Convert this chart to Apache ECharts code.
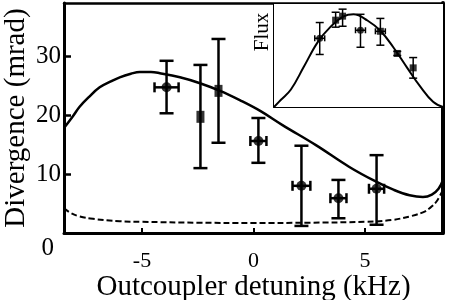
<!DOCTYPE html>
<html><head><meta charset="utf-8">
<script src="https://cdn.jsdelivr.net/npm/echarts@6/dist/echarts.min.js"></script>
<style>html,body{margin:0;padding:0;background:#fff}#c{width:450px;height:300px}</style>
</head><body><div id="c"></div>
<script>
// Main plot data (detuning kHz, divergence mrad)
const detuning = [-3.9, -2.38, -1.57, 0.22, 2.15, 3.81, 5.52];
const divergence = [24.7, 19.7, 24.1, 15.6, 8.0, 5.9, 7.5];
const divLow = [20.3, 11.0, 15.3, 11.9, 1.2, 2.5, 1.4];
const divHigh = [29.2, 28.5, 32.9, 19.5, 14.8, 9.0, 13.2];
const detErr = [0.54, 0, 0, 0.36, 0.4, 0.36, 0.34];
const markerShape = ['circle', 'rect', 'rect', 'circle', 'circle', 'circle', 'circle'];

// Theory curves
const solidCurve = [[-8.5,17.8],[-8.1,19.8],[-7.8,21.4],[-7.4,23.0],[-6.9,24.7],[-6.4,25.7],[-6.0,26.4],[-5.5,27.0],[-5.1,27.3],[-4.6,27.3],[-4.2,27.1],[-3.3,26.4],[-2.4,25.4],[-1.5,24.1],[-0.6,22.5],[0.3,20.7],[1.3,18.3],[2.8,14.9],[4.3,11.2],[5.5,8.7],[6.3,7.3],[7.0,6.4],[7.6,6.1],[8.0,6.5],[8.3,7.5],[8.5,9.0]];
const dashedCurve = [[-8.5,4.2],[-8.2,3.4],[-7.8,2.8],[-7.2,2.4],[-6.0,2.0],[-5,1.9],[-2.5,1.75],[0,1.7],[2.5,1.75],[5,1.9],[6.2,2.2],[7.1,2.9],[7.6,3.5],[7.9,4.2],[8.2,5.3],[8.5,7.3]];

// Inset (flux) data
const insetX = [-3.9, -2.3, -1.6, 0.2, 2.2, 3.9, 5.5];
const insetFlux = [0.667, 0.843, 0.882, 0.745, 0.735, 0.52, 0.38];
const insetLow = [0.51, 0.775, 0.784, 0.58, 0.60, 0.50, 0.28];
const insetHigh = [0.82, 0.92, 0.95, 0.90, 0.86, 0.54, 0.48];
const insetXErr = [0.5, 0, 0, 0.5, 0.5, 0, 0];
const insetShape = ['circle', 'rect', 'rect', 'circle', 'rect', 'rect', 'rect'];
const insetCurve = [[-8.5,0],[-7.8,0.07],[-6.8,0.17],[-5.5,0.39],[-4.1,0.63],[-2.8,0.78],[-1.5,0.88],[-0.5,0.9],[0.9,0.84],[2.2,0.74],[3.5,0.58],[4.9,0.38],[6.2,0.2],[7.5,0.05],[8.5,0]];

const xTicks = [-5, 0, 5];
const yTicks = [0, 10, 20, 30];

const FONT = 'Liberation Serif';

function errData(xs, ys, lo, hi, xe) {
  return xs.map((x, i) => [x, ys[i], lo[i], hi[i], xe[i]]);
}
function errRender(capV, capH, lw) {
  return function (params, api) {
    const x = api.value(0), y = api.value(1), lo = api.value(2), hi = api.value(3), xe = api.value(4);
    const pLo = api.coord([x, lo]), pHi = api.coord([x, hi]);
    const children = [];
    const st = { stroke: '#000', lineWidth: lw };
    children.push({ type: 'line', shape: { x1: pLo[0], y1: pLo[1], x2: pHi[0], y2: pHi[1] }, style: st });
    children.push({ type: 'line', shape: { x1: pLo[0] - capV, y1: pLo[1], x2: pLo[0] + capV, y2: pLo[1] }, style: st });
    children.push({ type: 'line', shape: { x1: pHi[0] - capV, y1: pHi[1], x2: pHi[0] + capV, y2: pHi[1] }, style: st });
    if (xe > 0) {
      const pL = api.coord([x - xe, y]), pR = api.coord([x + xe, y]);
      children.push({ type: 'line', shape: { x1: pL[0], y1: pL[1], x2: pR[0], y2: pR[1] }, style: st });
      children.push({ type: 'line', shape: { x1: pL[0], y1: pL[1] - capH, x2: pL[0], y2: pL[1] + capH }, style: st });
      children.push({ type: 'line', shape: { x1: pR[0], y1: pR[1] - capH, x2: pR[0], y2: pR[1] + capH }, style: st });
    }
    return { type: 'group', children };
  };
}
function frameAxis(gridIndex, pos, min, max, width) {
  return { type: 'value', gridIndex, position: pos, min, max,
    axisLine: { show: true, onZero: false, lineStyle: { color: '#000', width } },
    axisTick: { show: false }, axisLabel: { show: false }, splitLine: { show: false } };
}

const chart = echarts.init(document.getElementById('c'), null, { renderer: 'canvas' });
chart.setOption({
  animation: false,
  backgroundColor: '#fff',
  grid: [
    { left: 64, right: 7, top: 3, bottom: 67, containLabel: false, outerBoundsMode: 'none' },
    { left: 274, right: 7, top: 4, height: 103, show: true, borderWidth: 0, backgroundColor: '#fff', z: 5, containLabel: false, outerBoundsMode: 'none' }
  ],
  xAxis: [
    { type: 'value', gridIndex: 0, min: -8.5, max: 8.5, position: 'bottom',
      name: 'Outcoupler detuning (kHz)', nameLocation: 'middle', nameGap: 40, nameMoveOverlap: false,
      nameTextStyle: { fontFamily: FONT, fontSize: 29, color: '#000' },
      axisLine: { show: true, onZero: false, lineStyle: { color: '#000', width: 3 } }, splitLine: { show: false },
      axisTick: { inside: true, length: 5, lineStyle: { color: '#000', width: 2 }, customValues: xTicks },
      axisLabel: { fontFamily: FONT, fontSize: 22, color: '#000', margin: 17, customValues: xTicks } },
    frameAxis(0, 'top', -8.5, 8.5, 2.5),
    { type: 'value', gridIndex: 1, min: -8.5, max: 8.5, position: 'bottom',
      axisLine: { show: true, onZero: false, lineStyle: { color: '#000', width: 2 } }, splitLine: { show: false },
      axisTick: { inside: true, length: 4, lineStyle: { color: '#000', width: 1.5 }, customValues: xTicks },
      axisLabel: { show: false } },
    frameAxis(1, 'top', -8.5, 8.5, 2)
  ],
  yAxis: [
    { type: 'value', gridIndex: 0, min: 0, max: 39, position: 'left',
      name: 'Divergence (mrad)', nameLocation: 'middle', nameGap: 33, nameMoveOverlap: false,
      nameTextStyle: { fontFamily: FONT, fontSize: 29, color: '#000' },
      axisLine: { show: true, onZero: false, lineStyle: { color: '#000', width: 3 } }, splitLine: { show: false },
      axisTick: { inside: true, length: 7, lineStyle: { color: '#000', width: 2.5 }, customValues: yTicks },
      axisLabel: { fontFamily: FONT, fontSize: 25, color: '#000', margin: 3, customValues: yTicks,
        formatter: function (v) { return v === 0 ? '{z|0}' : String(v); },
        rich: { z: { fontFamily: FONT, fontSize: 25, color: '#000', padding: [30, 7, 0, 0] } } } },
    frameAxis(0, 'right', 0, 39, 4),
    { type: 'value', gridIndex: 1, min: 0, max: 1, position: 'left',
      axisLine: { show: true, onZero: false, lineStyle: { color: '#000', width: 2 } }, splitLine: { show: false },
      axisTick: { show: false }, axisLabel: { show: false } }
  ],
  graphic: [
    { type: 'text', x: 262, y: 32, rotation: Math.PI / 2, z: 100,
      style: { text: 'Flux', font: '21px "Liberation Serif"', fill: '#000', align: 'center', verticalAlign: 'middle' } }
  ],
  series: [
    { type: 'line', xAxisIndex: 0, yAxisIndex: 0, data: solidCurve, smooth: 0.4, showSymbol: false,
      lineStyle: { color: '#000', width: 2.5 } },
    { type: 'line', xAxisIndex: 0, yAxisIndex: 0, data: dashedCurve, smooth: 0.4, showSymbol: false,
      lineStyle: { color: '#000', width: 2, type: [6, 3] } },
    { type: 'custom', xAxisIndex: 0, yAxisIndex: 0, renderItem: errRender(7, 5, 2.5),
      data: errData(detuning, divergence, divLow, divHigh, detErr), z: 3 },
    { type: 'scatter', xAxisIndex: 0, yAxisIndex: 0, z: 4,
      data: detuning.map((x, i) => ({ value: [x, divergence[i]], symbol: markerShape[i], symbolSize: markerShape[i] === 'rect' ? [8, 12] : 10 })),
      itemStyle: { color: '#000' } },
    { type: 'line', xAxisIndex: 2, yAxisIndex: 2, data: insetCurve, smooth: 0.4, showSymbol: false, z: 6,
      lineStyle: { color: '#000', width: 2 } },
    { type: 'custom', xAxisIndex: 2, yAxisIndex: 2, renderItem: errRender(4, 3, 1.5),
      data: errData(insetX, insetFlux, insetLow, insetHigh, insetXErr), z: 7 },
    { type: 'scatter', xAxisIndex: 2, yAxisIndex: 2, z: 8,
      data: insetX.map((x, i) => ({ value: [x, insetFlux[i]], symbol: insetShape[i], symbolSize: insetShape[i] === 'rect' ? [7, 7] : 7 })),
      itemStyle: { color: '#000' } }
  ]
});
</script></body></html>
